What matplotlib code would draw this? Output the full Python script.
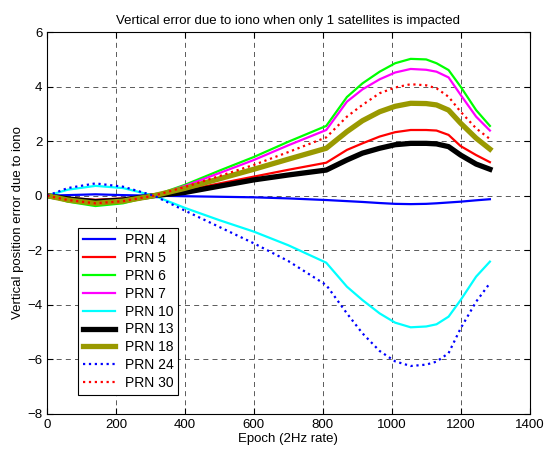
import numpy as np
import matplotlib.pyplot as plt

plt.rcParams['font.family'] = ['Liberation Sans', 'DejaVu Sans']

epoch = [0, 60, 140, 220, 310, 400, 500, 600, 700, 810, 870, 915, 965,
         1010, 1055, 1100, 1130, 1165, 1200, 1245, 1285]

prn4 = [0, 0.02, 0.05, 0.02, 0, -0.02, -0.04, -0.06, -0.1, -0.16, -0.2, -0.23,
        -0.27, -0.3, -0.31, -0.3, -0.28, -0.25, -0.22, -0.17, -0.13]
prn5 = [0, -0.08, -0.15, -0.1, 0, 0.2, 0.45, 0.7, 0.95, 1.21, 1.68, 1.92,
        2.17, 2.33, 2.41, 2.41, 2.39, 2.23, 1.82, 1.49, 1.23]
prn6 = [0, -0.22, -0.38, -0.28, 0, 0.4, 0.92, 1.42, 1.98, 2.56, 3.62, 4.12,
        4.55, 4.86, 5.02, 5.0, 4.86, 4.61, 4.0, 3.14, 2.56]
prn7 = [0, -0.17, -0.3, -0.22, 0, 0.36, 0.83, 1.31, 1.85, 2.41, 3.45, 3.9,
        4.27, 4.52, 4.65, 4.62, 4.55, 4.34, 3.7, 2.9, 2.39]
prn10 = [0, 0.22, 0.36, 0.28, 0, -0.45, -0.9, -1.32, -1.82, -2.46, -3.34, -3.83,
         -4.32, -4.66, -4.83, -4.8, -4.72, -4.44, -3.83, -2.97, -2.42]
prn13 = [0, -0.12, -0.22, -0.16, 0, 0.12, 0.35, 0.58, 0.76, 0.94, 1.31, 1.56,
         1.74, 1.87, 1.92, 1.92, 1.9, 1.8, 1.49, 1.16, 0.97]
prn18 = [0, -0.16, -0.28, -0.2, 0, 0.27, 0.62, 0.97, 1.34, 1.74, 2.35, 2.75,
         3.08, 3.28, 3.39, 3.38, 3.33, 3.14, 2.66, 2.11, 1.71]
prn24 = [0, 0.28, 0.45, 0.33, 0, -0.55, -1.15, -1.75, -2.4, -3.28, -4.32, -5.05,
         -5.7, -6.08, -6.25, -6.2, -6.09, -5.78, -4.87, -3.89, -3.21]
prn30 = [0, -0.16, -0.28, -0.2, 0, 0.32, 0.72, 1.13, 1.6, 2.14, 2.9, 3.33,
         3.76, 3.97, 4.09, 4.05, 3.94, 3.63, 3.08, 2.47, 2.08]

series = [
    ("PRN 4", prn4, "#0000ff", "-", 1.6),
    ("PRN 5", prn5, "#ff0000", "-", 1.6),
    ("PRN 6", prn6, "#00ff00", "-", 1.6),
    ("PRN 7", prn7, "#ff00ff", "-", 1.6),
    ("PRN 10", prn10, "#00ffff", "-", 1.6),
    ("PRN 13", prn13, "#000000", "-", 3.8),
    ("PRN 18", prn18, "#999900", "-", 3.8),
    ("PRN 24", prn24, "#0000ff", ":", 1.6),
    ("PRN 30", prn30, "#ff0000", ":", 1.6),
]

fig = plt.figure(figsize=(5.45, 4.55), dpi=100)
ax = fig.add_axes([0.0866, 0.0908, 0.885, 0.8385])

for name, vals, col, ls, lw in series:
    ax.plot(epoch, vals, color=col, ls=ls, lw=lw, label=name)

ax.set_xlim(0, 1400)
ax.set_ylim(-8, 6)
ax.set_xticks(np.arange(0, 1401, 200))
ax.set_yticks(np.arange(-8, 7, 2))
ax.grid(True, color="k", ls=(0, (6, 5)), lw=0.6, alpha=0.75)
ax.tick_params(direction="in", top=True, right=True, labelsize=9.5, length=4)
for s in ax.spines.values():
    s.set_linewidth(0.8)

ax.set_title("Vertical error due to iono when only 1 satellites is impacted", fontsize=9.5)
ax.set_xlabel("Epoch (2Hz rate)", fontsize=9.5, labelpad=2)
ax.set_ylabel("Vertical position error due to iono", fontsize=9.5, labelpad=2)

leg = ax.legend(loc="lower left", bbox_to_anchor=(0.064, 0.049), borderaxespad=0,
                fontsize=10, handlelength=2.3, labelspacing=0.28, borderpad=0.35,
                handletextpad=0.7, fancybox=False, framealpha=1, edgecolor="k")
leg.get_frame().set_linewidth(0.8)

fig.savefig("out.png", dpi=100)
